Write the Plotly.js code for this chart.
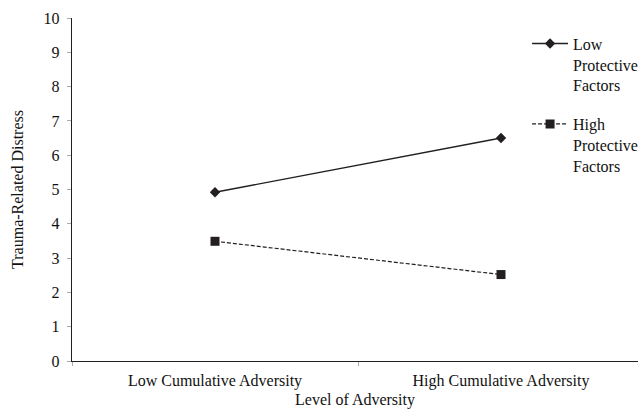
<!DOCTYPE html>
<html>
<head>
<meta charset="utf-8">
<script src="https://cdn.plot.ly/plotly-3.0.1.min.js"></script>
<style>html,body{margin:0;padding:0;background:#fff;overflow:hidden}</style>
</head>
<body>
<div id="chart" style="width:638px;height:409px"></div>
<script>
const categories = ['Low Cumulative Adversity', 'High Cumulative Adversity'];
const seriesNames = ['Low<br>Protective<br>Factors', 'High<br>Protective<br>Factors'];
const lowProtective = [4.92, 6.5];
const highProtective = [3.49, 2.52];
const yTicks = [0, 1, 2, 3, 4, 5, 6, 7, 8, 9, 10];

const ink = '#231f20';
const serif = 'Liberation Serif, Times New Roman, serif';
const fs = 16;

const traces = [
  {
    x: categories, y: lowProtective, name: seriesNames[0], legendgroup: 'a',
    type: 'scatter', mode: 'lines+markers',
    line: {color: ink, width: 1.4},
    marker: {symbol: 'diamond', size: 8, color: ink}
  },
  {
    x: categories, y: highProtective, name: seriesNames[1], legendgroup: 'b',
    type: 'scatter', mode: 'lines+markers',
    line: {color: ink, width: 1.2, dash: '4px,2px'},
    marker: {symbol: 'square', size: 9, color: ink}
  }
];

const layout = {
  width: 638, height: 409,
  margin: {l: 72, r: 0, t: 17.5, b: 48.3, pad: 0, autoexpand: false},
  paper_bgcolor: '#fff', plot_bgcolor: '#fff',
  font: {family: serif, size: fs, color: '#111'},
  showlegend: true,
  legend: {
    x: 0.804, xanchor: 'left', y: 0.975, yanchor: 'top',
    valign: 'top', traceorder: 'grouped', tracegroupgap: 15,
    itemwidth: 36,
    bgcolor: 'rgba(0,0,0,0)', font: {family: serif, size: fs, color: '#111'}
  },
  xaxis: {
    type: 'category', range: [-0.5, 1.479],
    showgrid: false, zeroline: false,
    showline: true, linecolor: ink, linewidth: 1.2,
    ticks: 'outside', tickson: 'boundaries', ticklen: 4, tickcolor: '#aaa', tickwidth: 1,
    ticklabelstandoff: 5,
    tickfont: {family: serif, size: fs, color: '#111'},
    title: {text: 'Level of Adversity', standoff: 7, font: {family: serif, size: fs, color: '#111'}}
  },
  yaxis: {
    range: [0, 10], tickmode: 'array', tickvals: yTicks,
    showgrid: false, zeroline: false,
    showline: true, linecolor: ink, linewidth: 1.2,
    ticks: 'outside', ticklen: 4, tickcolor: '#aaa', tickwidth: 1,
    ticklabelstandoff: 4,
    tickfont: {family: serif, size: fs, color: '#111'},
    title: {text: 'Trauma-Related Distress', standoff: 16, font: {family: serif, size: fs, color: '#111'}}
  }
};

Plotly.newPlot('chart', traces, layout, {displayModeBar: false, staticPlot: true});
</script>
</body>
</html>
